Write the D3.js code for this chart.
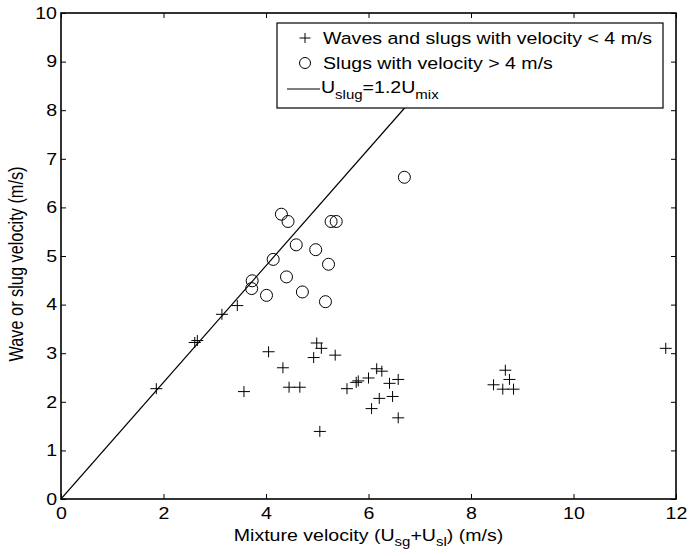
<!DOCTYPE html>
<html>
<head>
<meta charset="utf-8">
<script src="https://cdn.jsdelivr.net/npm/d3@7"></script>
<style>
  body { margin: 0; background: #fff; }
  text { font-family: "Liberation Sans", Arial, sans-serif; fill: #000; }
</style>
</head>
<body>
<div id="chart"></div>
<script>
// waves and slugs with velocity < 4 m/s (plus markers)
var waveX = [1.86, 2.61, 2.66, 3.14, 3.44, 3.57, 4.05, 4.33, 4.45, 4.66, 4.93, 4.99, 5.05, 5.08,
             5.35, 5.58, 5.76, 5.80, 6.00, 6.06, 6.16, 6.21, 6.26, 6.41, 6.47, 6.58, 6.58,
             8.44, 8.62, 8.67, 8.75, 8.83, 11.80];
var waveY = [2.27, 3.22, 3.26, 3.80, 3.98, 2.21, 3.03, 2.70, 2.30, 2.30, 2.91, 3.21, 1.39, 3.10,
             2.96, 2.27, 2.40, 2.43, 2.49, 1.86, 2.68, 2.07, 2.63, 2.38, 2.11, 2.46, 1.67,
             2.35, 2.26, 2.65, 2.46, 2.26, 3.10];
// slugs with velocity > 4 m/s (circle markers)
var slugX = [3.72, 3.73, 4.01, 4.14, 4.30, 4.40, 4.43, 4.59, 4.71, 4.97, 5.16, 5.22, 5.27, 5.37, 6.70];
var slugY = [4.33, 4.49, 4.19, 4.93, 5.86, 4.57, 5.71, 5.23, 4.26, 5.13, 4.06, 4.83, 5.71, 5.71, 6.62];
// U_slug = 1.2 U_mix, drawn up to where it runs under the legend
var lineX = [0, 7];
var xTicks = [0, 2, 4, 6, 8, 10, 12];
var yTicks = [0, 1, 2, 3, 4, 5, 6, 7, 8, 9, 10];

(function() {
  var W = 691, H = 556;
  var pL = 61, pR = 676, pT = 13, pB = 499;
  var fs = 16.3, sx = 1.2;   // text looks horizontally stretched in the original

  var svg = d3.select("#chart").append("svg")
      .attr("width", W).attr("height", H);

  var x = d3.scaleLinear().domain([0, 12]).range([pL, pR]);
  var y = d3.scaleLinear().domain([0, 10]).range([pB, pT]);

  // stretched text helper
  function label(parent, tx, ty, anchor) {
    return parent.append("g")
        .attr("transform", "translate(" + tx + "," + ty + ") scale(" + sx + ",1)")
      .append("text")
        .attr("text-anchor", anchor || "start")
        .attr("font-size", fs);
  }

  svg.append("clipPath").attr("id", "clip")
    .append("rect").attr("x", pL).attr("y", pT)
    .attr("width", pR - pL).attr("height", pB - pT);

  var plot = svg.append("g").attr("clip-path", "url(#clip)");

  // reference line
  var line = d3.line().x(function(d) { return x(d); }).y(function(d) { return y(1.2 * d); });
  plot.append("path").datum(lineX)
      .attr("d", line)
      .attr("fill", "none").attr("stroke", "#000").attr("stroke-width", 1.2);

  // plus markers
  var ph = 6, pv = 5.5;
  plot.selectAll("path.plus")
      .data(waveX)
    .enter().append("path")
      .attr("class", "plus")
      .attr("d", function(d, i) {
          var cx = x(d), cy = y(waveY[i]);
          return "M" + (cx - ph) + "," + cy + "H" + (cx + ph) + "M" + cx + "," + (cy - pv) + "V" + (cy + pv);
      })
      .attr("stroke", "#000").attr("stroke-width", 1).attr("fill", "none");

  // circle markers
  plot.selectAll("circle.slug")
      .data(slugX)
    .enter().append("circle")
      .attr("class", "slug")
      .attr("cx", function(d) { return x(d); })
      .attr("cy", function(d, i) { return y(slugY[i]); })
      .attr("r", 6)
      .attr("fill", "none").attr("stroke", "#000").attr("stroke-width", 1);

  // axes (ticks inward, box on)
  var tl = 5;
  var gx = svg.append("g").attr("transform", "translate(0," + pB + ")")
      .call(d3.axisBottom(x).tickValues(xTicks).tickSize(-tl).tickPadding(8))
      .call(function(g) { g.select(".domain").remove(); });
  svg.append("g").attr("transform", "translate(0," + pT + ")")
      .call(d3.axisTop(x).tickValues(xTicks).tickSize(-tl).tickFormat(""))
      .call(function(g) { g.select(".domain").remove(); });
  var gy = svg.append("g").attr("transform", "translate(" + pL + ",0)")
      .call(d3.axisLeft(y).tickValues(yTicks).tickSize(-tl).tickPadding(4))
      .call(function(g) { g.select(".domain").remove(); });
  svg.append("g").attr("transform", "translate(" + pR + ",0)")
      .call(d3.axisRight(y).tickValues(yTicks).tickSize(-tl).tickFormat(""))
      .call(function(g) { g.select(".domain").remove(); });

  svg.selectAll(".tick line").attr("stroke", "#000").attr("stroke-width", 1);
  svg.selectAll(".tick text")
      .attr("font-size", fs)
      .attr("font-family", "Liberation Sans, Arial, sans-serif")
      .attr("fill", "#000")
      .attr("transform", "scale(" + sx + ",1)");
  gy.selectAll(".tick text").attr("x", -4 / sx);

  svg.append("rect")
      .attr("x", pL).attr("y", pT).attr("width", pR - pL).attr("height", pB - pT)
      .attr("fill", "none").attr("stroke", "#000").attr("stroke-width", 1.6);

  // legend
  var lg = svg.append("g");
  lg.append("rect").attr("x", 277).attr("y", 23).attr("width", 386).attr("height", 85)
      .attr("fill", "#fff").attr("stroke", "#000").attr("stroke-width", 1.2);
  var rows = [38, 63, 89];
  lg.append("path")
      .attr("d", "M" + (305 - 5.5) + "," + rows[0] + "H" + (305 + 5.5) + "M305," + (rows[0] - 5) + "V" + (rows[0] + 5))
      .attr("stroke", "#000").attr("fill", "none");
  lg.append("circle").attr("cx", 305).attr("cy", rows[1]).attr("r", 5.5)
      .attr("stroke", "#000").attr("fill", "none");
  lg.append("line").attr("x1", 287).attr("x2", 320).attr("y1", rows[2]).attr("y2", rows[2])
      .attr("stroke", "#000").attr("stroke-width", 1.2);
  label(lg, 323, rows[0] + 6).text("Waves and slugs with velocity < 4 m/s");
  label(lg, 323, rows[1] + 6).text("Slugs with velocity > 4 m/s");
  var t3 = label(lg, 321, rows[2] + 4);
  t3.append("tspan").text("U");
  t3.append("tspan").attr("dy", 6).attr("font-size", 12.5).text("slug");
  t3.append("tspan").attr("dy", -6).text("=1.2U");
  t3.append("tspan").attr("dy", 6).attr("font-size", 12.5).text("mix");

  // axis titles
  var xt = label(svg, (pL + pR) / 2, 541, "middle");
  xt.append("tspan").text("Mixture velocity (U");
  xt.append("tspan").attr("dy", 5).attr("font-size", 12.5).text("sg");
  xt.append("tspan").attr("dy", -5).text("+U");
  xt.append("tspan").attr("dy", 5).attr("font-size", 12.5).text("sl");
  xt.append("tspan").attr("dy", -5).text(") (m/s)");

  svg.append("g")
      .attr("transform", "translate(23," + ((pT + pB) / 2 + 8) + ") scale(" + sx + ",1) rotate(-90)")
    .append("text")
      .attr("text-anchor", "middle").attr("font-size", fs)
      .text("Wave or slug velocity (m/s)");
})();
</script>
</body>
</html>
